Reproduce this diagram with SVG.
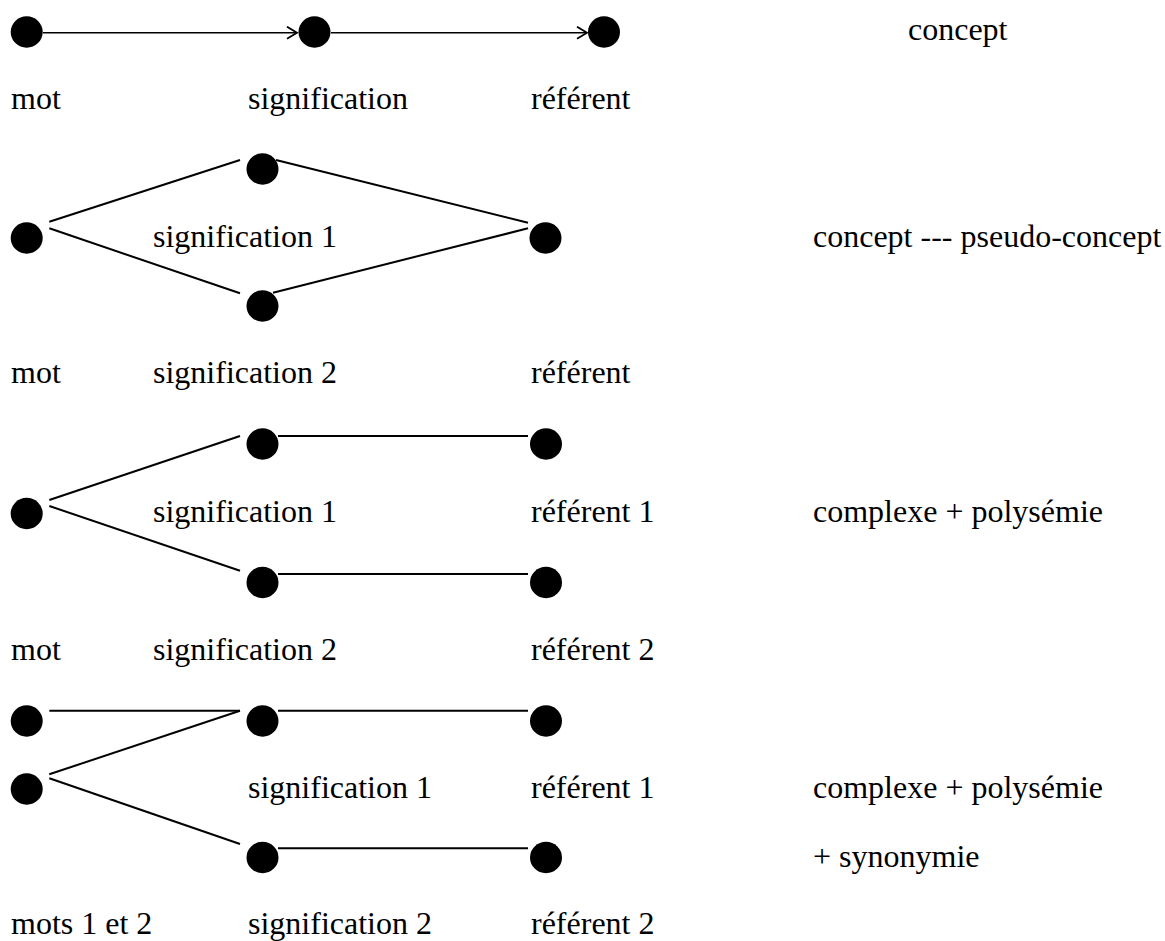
<svg xmlns="http://www.w3.org/2000/svg" width="1165" height="941" viewBox="0 0 1165 941">
<style>
  .dot { fill: #000; }
  .ln { stroke: #000; stroke-width: 2; fill: none; }
  .arr { stroke: #000; stroke-width: 1.5; fill: none; }
  text { font-family: "Liberation Serif", "Times New Roman", serif; font-size: 32px; fill: #000; }
</style>
<defs>
  <marker id="open" markerUnits="userSpaceOnUse" markerWidth="14" markerHeight="16" refX="11" refY="7" orient="auto">
    <path d="M1,1 L11,7 L1,13" stroke="#000" stroke-width="1.8" fill="none"/>
  </marker>
</defs>
<rect width="1165" height="941" fill="#fff"/>

<g id="connectors">
  <line class="arr" x1="43" y1="32.7" x2="297" y2="32.7" marker-end="url(#open)"/>
  <line class="arr" x1="331" y1="32.7" x2="587" y2="32.7" marker-end="url(#open)"/>

  <line class="ln" x1="49.3" y1="221.7" x2="240" y2="160"/>
  <line class="ln" x1="49.3" y1="228.3" x2="240" y2="293.3"/>
  <line class="ln" x1="276" y1="160" x2="528" y2="222.7"/>
  <line class="ln" x1="273" y1="292.7" x2="528" y2="228.3"/>

  <line class="ln" x1="49.3" y1="500" x2="240" y2="436"/>
  <line class="ln" x1="49.3" y1="506" x2="240" y2="570.7"/>
  <line class="ln" x1="278" y1="436" x2="528" y2="436"/>
  <line class="ln" x1="278" y1="574" x2="528" y2="574"/>

  <line class="ln" x1="49.3" y1="710.7" x2="240" y2="710.7"/>
  <line class="ln" x1="49.3" y1="774.3" x2="240" y2="710.7"/>
  <line class="ln" x1="49.3" y1="778.3" x2="240" y2="844"/>
  <line class="ln" x1="278" y1="710.7" x2="528" y2="710.7"/>
  <line class="ln" x1="278" y1="848.3" x2="528" y2="848.3"/>
</g>

<g id="row1">
  <g id="r1-mot"><ellipse class="dot" cx="26.7" cy="32" rx="16" ry="15.7"/><text x="11" y="109">mot</text></g>
  <g id="r1-sig"><ellipse class="dot" cx="314.5" cy="32" rx="16" ry="15.7"/><text x="248" y="109">signification</text></g>
  <g id="r1-ref"><ellipse class="dot" cx="604" cy="32" rx="16" ry="15.7"/><text x="531" y="109">référent</text></g>
  <text id="r1-note" x="908" y="40">concept</text>
</g>

<g id="row2">
  <g id="r2-mot"><ellipse class="dot" cx="26.7" cy="238" rx="16" ry="15.7"/><text x="11" y="383">mot</text></g>
  <g id="r2-sig1"><ellipse class="dot" cx="262.5" cy="169" rx="16" ry="15.7"/><text x="153" y="247">signification 1</text></g>
  <g id="r2-sig2"><ellipse class="dot" cx="262.5" cy="306" rx="16" ry="15.7"/><text x="153" y="383">signification 2</text></g>
  <g id="r2-ref"><ellipse class="dot" cx="545.5" cy="238" rx="16" ry="15.7"/><text x="531" y="383">référent</text></g>
  <text id="r2-note" x="813" y="247">concept --- pseudo-concept</text>
</g>

<g id="row3">
  <g id="r3-mot"><ellipse class="dot" cx="26.7" cy="513.5" rx="16" ry="15.7"/><text x="11" y="660">mot</text></g>
  <g id="r3-sig1"><ellipse class="dot" cx="262.5" cy="444" rx="16" ry="15.7"/><text x="153" y="522">signification 1</text></g>
  <g id="r3-ref1"><ellipse class="dot" cx="546" cy="444" rx="16" ry="15.7"/><text x="531" y="522">référent 1</text></g>
  <g id="r3-sig2"><ellipse class="dot" cx="262.5" cy="582.5" rx="16" ry="15.7"/><text x="153" y="660">signification 2</text></g>
  <g id="r3-ref2"><ellipse class="dot" cx="546" cy="582.5" rx="16" ry="15.7"/><text x="531" y="660">référent 2</text></g>
  <text id="r3-note" x="813" y="522">complexe + polysémie</text>
</g>

<g id="row4">
  <g id="r4-mot1"><ellipse class="dot" cx="26.7" cy="721" rx="16" ry="15.7"/></g>
  <g id="r4-mot2"><ellipse class="dot" cx="26.7" cy="789" rx="16" ry="15.7"/><text x="11" y="934">mots 1 et 2</text></g>
  <g id="r4-sig1"><ellipse class="dot" cx="262.5" cy="721" rx="16" ry="15.7"/><text x="248" y="798">signification 1</text></g>
  <g id="r4-ref1"><ellipse class="dot" cx="546" cy="721" rx="16" ry="15.7"/><text x="531" y="798">référent 1</text></g>
  <g id="r4-sig2"><ellipse class="dot" cx="262.5" cy="857.5" rx="16" ry="15.7"/><text x="248" y="934">signification 2</text></g>
  <g id="r4-ref2"><ellipse class="dot" cx="546" cy="857.5" rx="16" ry="15.7"/><text x="531" y="934">référent 2</text></g>
  <text id="r4-note1" x="813" y="798">complexe + polysémie</text>
  <text id="r4-note2" x="813" y="867">+ synonymie</text>
</g>
</svg>
